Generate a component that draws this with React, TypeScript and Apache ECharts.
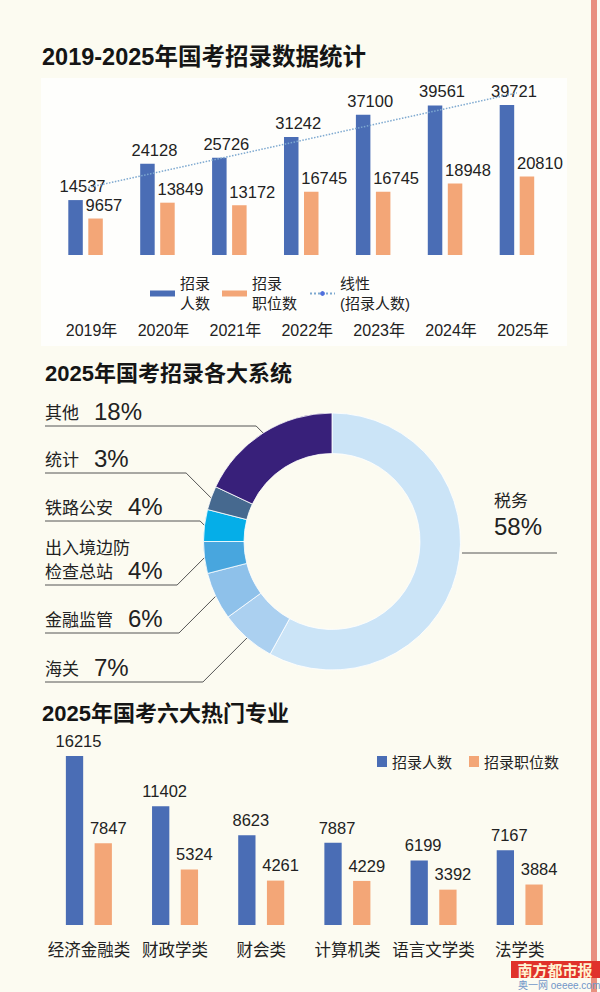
import React, { useEffect, useRef } from 'react';
import * as echarts from 'echarts';

// ---------- data ----------
const years = ['2019年', '2020年', '2021年', '2022年', '2023年', '2024年', '2025年'];
const hires = [14537, 24128, 25726, 31242, 37100, 39561, 39721];
const posts = [9657, 13849, 13172, 16745, 16745, 18948, 20810];
// linear trend line of 招录人数, read at 2019 and 2025
const trendEnds = [17700, 42900];

const systems = ['税务', '海关', '金融监管', '出入境边防\n检查总站', '铁路公安', '统计', '其他'];
const systemShares = [58, 7, 6, 4, 4, 3, 18];

const majors = ['经济金融类', '财政学类', '财会类', '计算机类', '语言文学类', '法学类'];
const majorHires = [16215, 11402, 8623, 7887, 6199, 7167];
const majorPosts = [7847, 5324, 4261, 4229, 3392, 3884];

// ---------- styles / layout ----------
const BLUE = '#4a6db5';
const ORANGE = '#f3a677';
const TREND = '#7ea9d0';
const TEXT = '#222222';
const SANS = '"Liberation Sans", "Noto Sans CJK SC", sans-serif';
const CJK = '"Noto Sans CJK SC", sans-serif';
const systemColors = ['#cbe4f7', '#abd0f0', '#8ec1ea', '#48a6de', '#05aee8', '#46698f', '#38207a'];

const PIE_CX = 332;
const PIE_CY = 541.5;
const PIE_R0 = 88;
const PIE_R = 128.5;
const PIE_LINE_Y = [553, 682, 633, 585, 521, 473, 426];
const LEFT_LABEL_X = 45;

const TOP_LEGEND_TEXT: Record<string, string> = {
  '招录人数': '招录\n人数',
  '招录职位数': '招录\n职位数',
  '线性(招录人数)': '线性\n(招录人数)',
};

function buildOption(): any {
  return {
    animation: false,
    backgroundColor: '#fcfbf1',
    title: [
      { text: '2019-2025年国考招录数据统计', left: 42, top: 45, padding: 0,
        textStyle: { fontSize: 23.5, fontWeight: 'bold', color: '#151515', fontFamily: SANS } },
      { text: '2025年国考招录各大系统', left: 45, top: 362, padding: 0,
        textStyle: { fontSize: 22, fontWeight: 'bold', color: '#151515', fontFamily: SANS } },
      { text: '2025年国考六大热门专业', left: 42, top: 702, padding: 0,
        textStyle: { fontSize: 22, fontWeight: 'bold', color: '#151515', fontFamily: SANS } },
    ],
    graphic: [
      { type: 'rect', z: -10, shape: { x: 41, y: 78, width: 526, height: 268 }, style: { fill: '#fefefc' }, silent: true },
      { type: 'rect', z: -10, shape: { x: 591, y: 0, width: 6, height: 992 }, style: { fill: '#e8907f' }, silent: true },
      { type: 'rect', z: 50, shape: { x: 511, y: 961, width: 89, height: 17 }, style: { fill: '#e0322b' } },
      { type: 'text', z: 51, x: 555, y: 969.5, style: { text: '南方都市报', fontSize: 15, fontWeight: 'bold', fontFamily: CJK, fill: '#fff3d2', align: 'center', verticalAlign: 'middle' } },
      { type: 'text', z: 51, x: 518, y: 985.5, style: { text: '奥一网 oeeee.com', fontSize: 10, fontFamily: SANS, fill: '#7396c8', align: 'left', verticalAlign: 'middle' } },
    ],
    legend: [
      {
        left: 150, top: 269, padding: 0, itemWidth: 25, itemHeight: 6, itemGap: 12,
        selectedMode: false,
        data: [{ name: '招录人数', icon: 'rect' }, { name: '招录职位数', icon: 'rect' }, { name: '线性(招录人数)' }],
        formatter: (n: string) => TOP_LEGEND_TEXT[n] || n,
        textStyle: { fontSize: 15, lineHeight: 19.5, color: TEXT, fontFamily: SANS, padding: [0, 0, 10, 0] },
      },
      {
        left: 377, top: 754, padding: 0, itemWidth: 10, itemHeight: 11, itemGap: 17,
        selectedMode: false, icon: 'rect',
        data: ['招录人数', '招录职位数'],
        textStyle: { fontSize: 15, color: TEXT, fontFamily: CJK },
      },
    ],
    grid: [
      { left: 49.6, width: 503.3, top: 85, height: 170 },
      { left: 45.8, width: 517, top: 737.4, height: 187.6 },
    ],
    xAxis: [
      {
        type: 'category', gridIndex: 0, data: years,
        axisLine: { show: false }, axisTick: { show: false },
        axisLabel: { interval: 0, margin: 67, fontSize: 16, color: TEXT, fontFamily: SANS, padding: [0, 0, 0, 12] },
      },
      {
        type: 'category', gridIndex: 1, data: majors,
        axisLine: { show: false }, axisTick: { show: false },
        axisLabel: { interval: 0, margin: 16, fontSize: 16.5, color: TEXT, fontFamily: CJK },
      },
    ],
    yAxis: [
      { type: 'value', gridIndex: 0, min: 0, max: 45000, show: false, splitLine: { show: false } },
      { type: 'value', gridIndex: 1, min: 0, max: 18000, show: false, splitLine: { show: false } },
    ],
    series: [
      {
        name: '招录人数', type: 'bar', xAxisIndex: 0, yAxisIndex: 0, data: hires,
        barWidth: 14.5, barGap: '38%', itemStyle: { color: BLUE },
        label: { show: true, position: 'top', distance: 6, offset: [7, 0], fontSize: 16.5, color: TEXT, fontFamily: SANS },
      },
      {
        name: '招录职位数', type: 'bar', xAxisIndex: 0, yAxisIndex: 0, data: posts,
        barWidth: 14.5, barGap: '38%', itemStyle: { color: ORANGE },
        label: { show: true, position: 'top', distance: 5, align: 'left', offset: [-10, 0], fontSize: 16.5, color: TEXT, fontFamily: SANS },
      },
      {
        name: '线性(招录人数)', type: 'line', xAxisIndex: 0, yAxisIndex: 0, z: 3,
        data: [[years[0], trendEnds[0]], [years[years.length - 1], trendEnds[1]]],
        symbol: 'none', showSymbol: false, silent: true,
        lineStyle: { color: TREND, width: 1.5, type: 'dotted' },
      },
      {
        name: '各大系统', type: 'pie', center: [PIE_CX, PIE_CY], radius: [PIE_R0, PIE_R],
        startAngle: 90, clockwise: true, avoidLabelOverlap: false,
        itemStyle: { borderColor: '#ffffff', borderWidth: 0.8 },
        data: systems.map((s, i) => ({ name: s, value: systemShares[i], itemStyle: { color: systemColors[i] } })),
        label: {
          show: true, position: 'outside', color: TEXT,
          formatter: (p: any) => {
            if (p.dataIndex === 0) return `{n|${p.name}}\n{r|${p.value}%}`;
            const lines = String(p.name).split('\n');
            return lines.map((l: string, k: number) => (k === lines.length - 1 ? `{n|${l}}{v|${p.value}%}` : `{n|${l}}`)).join('\n');
          },
          rich: {
            n: { fontSize: 17, lineHeight: 24, fontFamily: CJK, color: TEXT },
            v: { fontSize: 24, lineHeight: 24, fontFamily: SANS, color: TEXT, padding: [0, 0, 0, 15] },
            r: { fontSize: 24, lineHeight: 30, fontFamily: SANS, color: TEXT },
          },
        },
        labelLine: { show: true, length: 10, length2: 10, lineStyle: { color: '#555555', width: 1 } },
        labelLayout: (params: any) => {
          const i = params.dataIndex;
          const ly = PIE_LINE_Y[i];
          if (i === 0) {
            const dy = ly - PIE_CY;
            const ex = PIE_CX + Math.sqrt(PIE_R * PIE_R - dy * dy) + 2;
            return {
              x: 494, y: ly - 12, align: 'left', verticalAlign: 'bottom',
              labelLinePoints: [[ex, ly], [ex + 1, ly], [557, ly]],
            };
          }
          const pts = params.labelLinePoints;
          const p0 = pts ? [pts[0][0], pts[0][1]] : [PIE_CX - PIE_R, ly];
          const d = Math.abs(ly - p0[1]);
          const ex = p0[0] - d;
          return {
            x: LEFT_LABEL_X, y: ly - 2.5, align: 'left', verticalAlign: 'bottom',
            labelLinePoints: [p0, [ex, ly], [LEFT_LABEL_X, ly]],
          };
        },
      },
      {
        name: '招录人数', type: 'bar', xAxisIndex: 1, yAxisIndex: 1, data: majorHires,
        barWidth: 17.3, barGap: '66%', itemStyle: { color: BLUE },
        label: { show: true, position: 'top', distance: 7, offset: [4, 0], fontSize: 16.5, color: TEXT, fontFamily: SANS },
      },
      {
        name: '招录职位数', type: 'bar', xAxisIndex: 1, yAxisIndex: 1, data: majorPosts,
        barWidth: 17.3, barGap: '66%', itemStyle: { color: ORANGE },
        label: { show: true, position: 'top', distance: 7, offset: [5, 0], fontSize: 16.5, color: TEXT, fontFamily: SANS },
      },
    ],
  };
}

export default function App() {
  const ref = useRef<HTMLDivElement>(null);
  useEffect(() => {
    document.body.style.margin = '0';
    if (!ref.current) return;
    const chart = echarts.init(ref.current, null, { renderer: 'svg' });
    chart.setOption(buildOption());
    return () => chart.dispose();
  }, []);
  return <div ref={ref} style={{ width: 600, height: 992 }} />;
}
